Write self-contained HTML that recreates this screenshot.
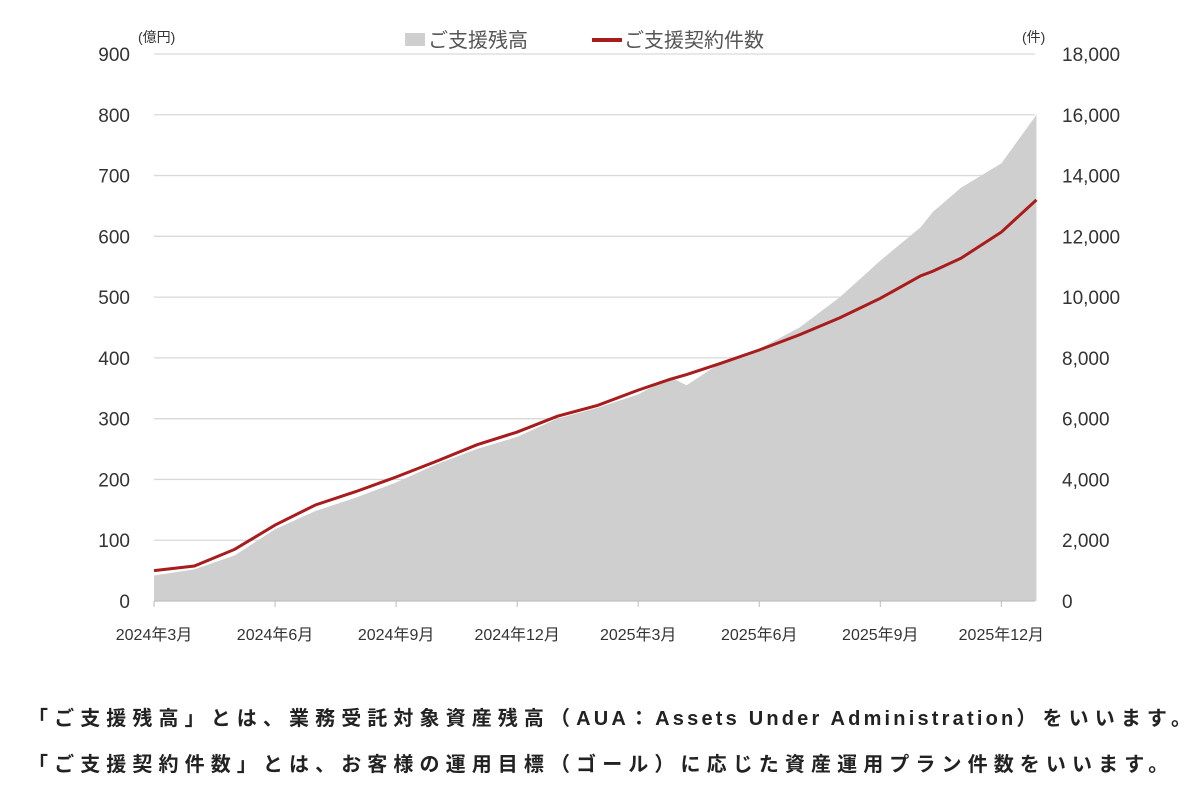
<!DOCTYPE html>
<html><head><meta charset="utf-8"><style>
body{margin:0;background:#fff;width:1200px;height:800px;overflow:hidden;font-family:"Liberation Sans","Noto Sans CJK JP",sans-serif}
.note{position:absolute;left:28px;font-size:20px;color:#222;white-space:nowrap;font-weight:bold;letter-spacing:6.1px}
.lat{letter-spacing:3.2px}
</style></head><body>
<svg id="chart" width="1200" height="680" style="position:absolute;left:0;top:0" font-family="Liberation Sans, Noto Sans CJK JP, sans-serif"></svg>
<div class="note" style="top:702px">「ご支援残高」とは、業務受託対象資産残高（<span class="lat">AUA</span>：<span class="lat">Assets Under Administration</span>）をいいます。</div>
<div class="note" style="top:748px">「ご支援契約件数」とは、お客様の運用目標（ゴール）に応じた資産運用プラン件数をいいます。</div>
<script>
const months=[0,1,2,3,4,5,6,7,8,9,10,11,12,12.8,13.2,14,15,16,17,18,19,19.3,20,21,21.87];
const aua=[42,52,75,118,148,170,195,225,250,270,300,318,340,368,355,390,415,450,500,560,615,640,680,720,800];
const contracts=[1000,1150,1700,2500,3160,3600,4080,4600,5140,5560,6080,6440,6940,7300,7450,7800,8260,8760,9320,9960,10700,10850,11280,12140,13200];
const leftTicks=[0,100,200,300,400,500,600,700,800,900];
const rightTicks=["0","2,000","4,000","6,000","8,000","10,000","12,000","14,000","16,000","18,000"];
const xLabels=["2024年3月","2024年6月","2024年9月","2024年12月","2025年3月","2025年6月","2025年9月","2025年12月"];
const xLabelMonths=[0,3,6,9,12,15,18,21];
const svg=document.getElementById('chart');const NS='http://www.w3.org/2000/svg';
const X0=154,PX=40.35,Y0=601,H=547;
const xs=m=>X0+m*PX, yL=v=>Y0-v/900*H, yR=v=>Y0-v/18000*H;
function mk(t,a,txt){const e=document.createElementNS(NS,t);for(const k in a)e.setAttribute(k,a[k]);if(txt!==undefined)e.textContent=txt;svg.appendChild(e);return e;}
leftTicks.forEach((v,i)=>{
 const g=mk('line',{x1:X0,x2:1035,y1:yL(v),y2:yL(v),stroke:'#d9d9d9','stroke-width':1.3});
 
 
 const t=mk('text',{x:130,y:yL(v)+7,'text-anchor':'end','font-size':19,fill:'#333'},v);
 
 
 const r=mk('text',{x:1062,y:yL(v)+7,'font-size':19,fill:'#333'},rightTicks[i]);
 
 
});
let d='M'+xs(months[0])+','+Y0;
months.forEach((m,i)=>{d+=' L'+xs(m)+','+yL(aua[i]);});
d+=' L'+xs(months[months.length-1])+','+Y0+' Z';
const area=mk('path',{d:d,fill:'#d0cfcf'});


const pts=months.map((m,i)=>xs(m)+','+yR(contracts[i])).join(' ');
const ln=mk('polyline',{points:pts,fill:'none',stroke:'#a81c1c','stroke-width':3});


const ax=mk('line',{x1:X0,x2:1035,y1:Y0,y2:Y0,stroke:'#bbb','stroke-width':1});


xLabels.forEach((l,i)=>{
 const tk=mk('line',{x1:xs(xLabelMonths[i]),x2:xs(xLabelMonths[i]),y1:Y0,y2:Y0+6,stroke:'#bbb'});
 
 
 const t=mk('text',{x:xs(xLabelMonths[i]),y:640,'text-anchor':'middle','font-size':16,fill:'#333'},l);
 
 
});
const u1=mk('text',{x:138,y:42,'font-size':14,fill:'#333'},'(億円)');


const u2=mk('text',{x:1022,y:42,'font-size':14,fill:'#333'},'(件)');


const lg1=mk('rect',{x:405,y:33,width:20,height:13,fill:'#d0cfcf'});


const lt1=mk('text',{x:428,y:47,'font-size':20,fill:'#555'},'ご支援残高');


const lg2=mk('line',{x1:592,x2:622,y1:40,y2:40,stroke:'#a81c1c','stroke-width':4});


const lt2=mk('text',{x:624,y:47,'font-size':20,fill:'#555'},'ご支援契約件数');


</script>
</body></html>
